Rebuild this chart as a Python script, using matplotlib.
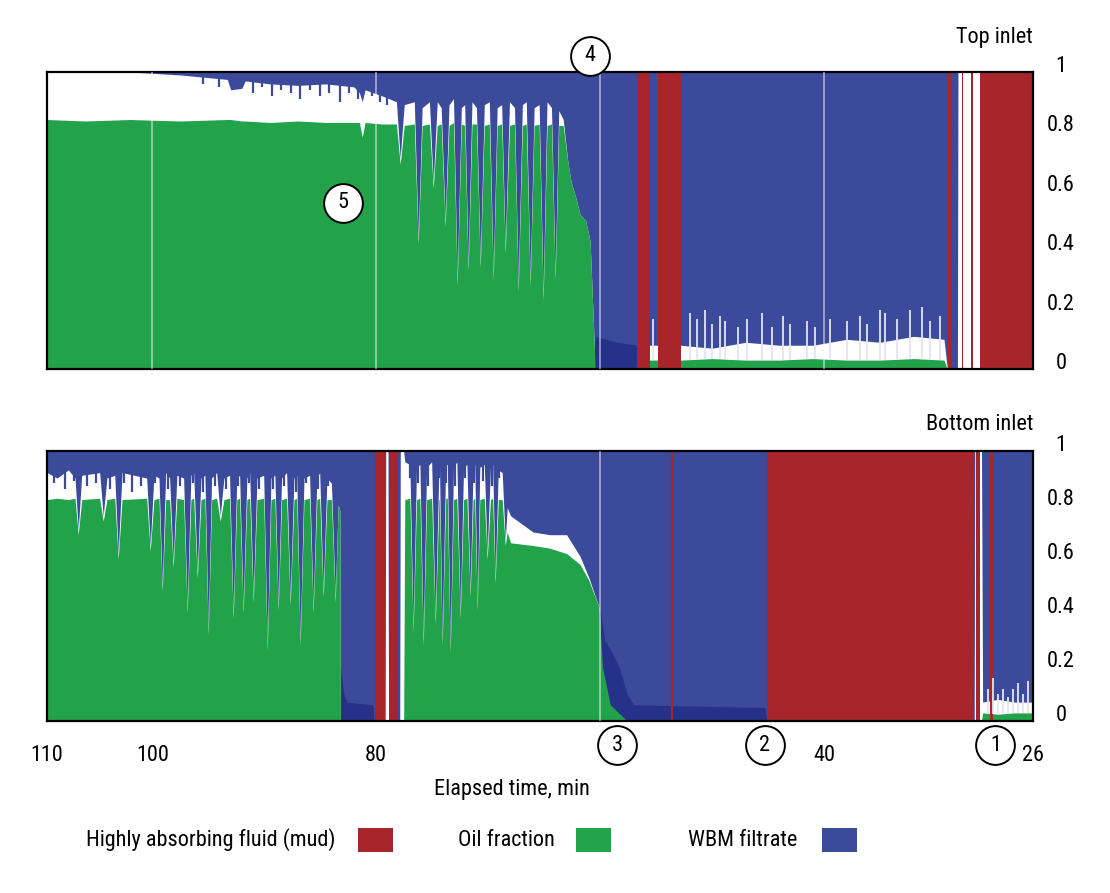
import numpy as np
import matplotlib.pyplot as plt
from matplotlib.patches import Rectangle

plt.rcParams['font.family'] = ['Roboto Condensed', 'Liberation Sans Narrow', 'Liberation Sans']

# colours
BLUE = '#3c4a9c'
DARK = '#26318a'
GREEN = '#22a24a'
RED = '#a8262b'
PALE = '#e4e4f4'

# ---------------- top inlet ----------------
# time (min), top of oil fraction, lower edge of WBM filtrate band (band runs up to 1)
t_top = [109.4, 106.0, 102.0, 97.5, 93.3, 93.0, 92.0, 91.7, 89.5, 87.0, 84.5, 82.0, 81.5, 81.25, 81.0, 79.5,
         78.2, 77.86, 77.5,
         76.6, 76.25, 75.9,
         75.25, 74.91, 74.55,
         74.2, 73.84, 73.5,
         73.1, 72.77, 72.4,
         72.1, 71.79, 71.45,
         71.05, 70.71, 70.35,
         69.9, 69.55, 69.2,
         68.8, 68.48, 68.1,
         67.65, 67.32, 66.95,
         66.6, 66.25, 65.9,
         65.45, 65.09, 64.75,
         64.35, 64.02, 63.7,
         63.3, 62.9, 62.6, 62.2, 61.8, 61.3, 60.9, 60.6, 60.45,
         56.8, 56.7,
         52.8, 50.0, 47.0, 44.0, 41.0, 38.0, 35.0, 32.0, 29.3,
         29.0, 28.1, 28.05, 21.35]
oil_top = [0.84, 0.835, 0.84, 0.835, 0.84, 0.84, 0.835, 0.835, 0.83, 0.835, 0.83, 0.83, 0.83, 0.78, 0.83, 0.825,
           0.825, 0.69, 0.82,
           0.825, 0.42, 0.82,
           0.825, 0.61, 0.82,
           0.825, 0.48, 0.82,
           0.83, 0.28, 0.825,
           0.82, 0.33, 0.825,
           0.825, 0.34, 0.82,
           0.825, 0.30, 0.82,
           0.825, 0.39, 0.82,
           0.825, 0.26, 0.82,
           0.825, 0.28, 0.82,
           0.825, 0.23, 0.82,
           0.825, 0.30, 0.82,
           0.82, 0.70, 0.63, 0.58, 0.52, 0.50, 0.43, 0.15, 0.0,
           0.0, 0.03,
           0.03, 0.035, 0.03, 0.03, 0.035, 0.03, 0.03, 0.035, 0.03,
           0.0, 0.0, 0.0, 0.0]
wbm_top = [1.0, 1.0, 1.0, 0.99, 0.975, 0.94, 0.945, 0.97, 0.96, 0.955, 0.96, 0.95, 0.93, 0.90, 0.94, 0.92,
           0.90, 0.71, 0.89,
           0.90, 0.44, 0.88,
           0.90, 0.63, 0.90,
           0.88, 0.50, 0.89,
           0.91, 0.30, 0.88,
           0.89, 0.35, 0.90,
           0.88, 0.36, 0.89,
           0.90, 0.32, 0.88,
           0.89, 0.41, 0.90,
           0.88, 0.28, 0.89,
           0.90, 0.30, 0.88,
           0.89, 0.25, 0.90,
           0.88, 0.32, 0.87,
           0.84, 0.70, 0.63, 0.58, 0.52, 0.50, 0.43, 0.15, 0.0,
           0.0, 0.08,
           0.08, 0.07, 0.09, 0.08, 0.08, 0.10, 0.09, 0.11, 0.10,
           0.0, 0.0, 1.0, 1.0]
t_dark_top = [60.6, 60.45, 58.5, 56.7]
dark_top = [0.0, 0.11, 0.09, 0.08]
mud_start_top = [56.7, 54.82, 28.93, 27.68, 26.88, 26.07]
mud_end_top = [55.54, 52.77, 28.6, 27.59, 26.70, 21.35]
spike_t_top = [55.27, 51.96, 51.34, 50.63, 50.0, 49.29, 48.84, 47.68, 46.88, 45.54, 44.64, 43.66, 43.04,
               41.52, 40.80, 39.46, 37.95, 36.79, 36.16, 35.0, 34.55, 33.48, 32.32, 31.25, 30.54, 29.64]
spike_h_top = [0.17, 0.19, 0.17, 0.20, 0.15, 0.18, 0.16, 0.14, 0.17, 0.19, 0.14, 0.18, 0.15,
               0.16, 0.14, 0.17, 0.16, 0.18, 0.15, 0.20, 0.19, 0.17, 0.20, 0.21, 0.16, 0.18]
fringe_t_top = [95.5, 94.0, 91.0, 90.2, 89.3, 88.5, 87.6, 86.8, 85.9, 85.0, 84.2, 83.2, 82.4, 81.6, 80.4, 79.7, 79.0]
fringe_h_top = [0.96, 0.95, 0.93, 0.95, 0.92, 0.94, 0.93, 0.91, 0.94, 0.92, 0.93, 0.90, 0.93, 0.91, 0.92, 0.90, 0.89]

# ---------------- bottom inlet ----------------
t_bot = [109.4, 108.5, 107.5,
         106.9, 106.61, 106.3,
         104.7, 104.38, 104.05,
         103.35, 103.04, 102.7,
         100.5, 100.18, 99.85,
         99.4, 99.11, 98.8,
         98.45, 98.13, 97.8,
         97.2, 96.88, 96.55,
         96.3, 95.98, 95.65,
         95.3, 95.0, 94.7,
         94.25, 93.93, 93.6,
         93.1, 92.77, 92.45,
         92.2, 91.88, 91.55,
         91.3, 90.98, 90.65,
         90.05, 89.73, 89.4,
         89.05, 88.75, 88.45,
         88.0, 87.68, 87.35,
         87.1, 86.79, 86.45,
         85.95, 85.63, 85.3,
         85.05, 84.73, 84.4,
         84.0, 83.66, 83.4,
         83.25, 83.2,
         79.2, 79.15, 78.95, 78.9,
         77.9, 77.85, 77.55, 77.45,
         77.0, 76.7, 76.4,
         76.1, 75.8, 75.5,
         75.05, 74.73, 74.4,
         74.35, 74.11, 73.8,
         73.65, 73.39, 73.1,
         72.8, 72.5, 72.2,
         71.9, 71.61, 71.35,
         71.2, 70.98, 70.75,
         70.35, 70.09, 69.8,
         69.6, 69.38, 69.1,
         68.75, 68.48, 68.3,
         68.0, 66.0, 64.5, 63.0, 61.8, 61.0, 60.1, 59.8, 59.1, 57.6,
         26.6, 26.55, 25.95, 25.85, 24.5, 23.0, 21.35]
oil_bot = [0.82, 0.825, 0.82,
           0.825, 0.69, 0.82,
           0.825, 0.74, 0.82,
           0.825, 0.60, 0.82,
           0.825, 0.63, 0.82,
           0.825, 0.48, 0.82,
           0.82, 0.57, 0.825,
           0.82, 0.40, 0.82,
           0.825, 0.53, 0.82,
           0.825, 0.32, 0.82,
           0.825, 0.74, 0.82,
           0.825, 0.38, 0.82,
           0.825, 0.40, 0.82,
           0.825, 0.44, 0.82,
           0.825, 0.26, 0.82,
           0.825, 0.41, 0.82,
           0.825, 0.43, 0.82,
           0.825, 0.28, 0.82,
           0.825, 0.40, 0.82,
           0.825, 0.46, 0.82,
           0.82, 0.44, 0.80,
           0.78, 0.0,
           0.0, 0.0, 0.0, 0.0,
           0.0, 0.0, 0.0, 0.82,
           0.825, 0.33, 0.82,
           0.825, 0.28, 0.82,
           0.825, 0.36, 0.82,
           0.82, 0.28, 0.825,
           0.825, 0.25, 0.82,
           0.825, 0.38, 0.82,
           0.825, 0.46, 0.82,
           0.825, 0.41, 0.82,
           0.825, 0.60, 0.82,
           0.825, 0.51, 0.82,
           0.82, 0.65, 0.70,
           0.66, 0.65, 0.64, 0.62, 0.58, 0.52, 0.42, 0.20, 0.06, 0.0,
           0.0, 0.0, 0.0, 0.03, 0.025, 0.03, 0.03]
wbm_bot = [0.92, 0.90, 0.93,
           0.90, 0.71, 0.91,
           0.92, 0.76, 0.90,
           0.91, 0.62, 0.92,
           0.90, 0.65, 0.91,
           0.90, 0.50, 0.92,
           0.90, 0.59, 0.91,
           0.90, 0.42, 0.91,
           0.92, 0.55, 0.90,
           0.91, 0.34, 0.90,
           0.92, 0.76, 0.90,
           0.91, 0.40, 0.90,
           0.91, 0.42, 0.90,
           0.92, 0.46, 0.90,
           0.91, 0.28, 0.90,
           0.91, 0.43, 0.90,
           0.92, 0.45, 0.90,
           0.91, 0.30, 0.90,
           0.91, 0.42, 0.90,
           0.92, 0.48, 0.90,
           0.88, 0.46, 0.80,
           0.78, 0.0,
           0.0, 1.0, 1.0, 0.0,
           0.0, 1.0, 1.0, 0.96,
           0.95, 0.35, 0.94,
           0.95, 0.30, 0.94,
           0.96, 0.38, 0.94,
           0.94, 0.30, 0.95,
           0.95, 0.27, 0.94,
           0.96, 0.40, 0.94,
           0.95, 0.48, 0.94,
           0.95, 0.43, 0.94,
           0.95, 0.62, 0.94,
           0.95, 0.53, 0.93,
           0.92, 0.67, 0.79,
           0.76, 0.70, 0.69, 0.69, 0.61, 0.53, 0.42, 0.20, 0.06, 0.0,
           0.0, 1.0, 1.0, 0.07, 0.08, 0.07, 0.07]
t_dark_bot = [83.2, 82.9, 82.6, 80.3, 80.2, 60.1, 60.0, 59.6, 58.9, 58.3, 57.6, 57.0, 45.3, 45.1]
dark_bot = [0.20, 0.10, 0.07, 0.06, 0.0, 0.0, 0.41, 0.30, 0.25, 0.20, 0.10, 0.06, 0.05, 0.0]
mud_start_bot = [80.1, 78.9, 53.65, 45.1, 26.4, 25.2]
mud_end_bot = [79.2, 78.1, 53.5, 26.6, 26.1, 24.95]
spike_t_bot = [25.36, 24.9, 24.46, 24.0, 23.57, 23.1, 22.68, 22.2, 21.8]
spike_h_bot = [0.12, 0.16, 0.10, 0.12, 0.09, 0.12, 0.14, 0.10, 0.15]
fringe_t_bot = [108.8, 107.8, 107.0, 105.8, 105.0, 103.8, 102.5, 101.8, 101.0, 99.8,
                98.6, 97.5, 96.4, 95.5, 94.4, 93.4, 92.3, 91.4, 90.5, 89.2,
                88.2, 87.2, 86.3, 85.2, 84.3,
                77.0, 76.3, 75.4, 74.4, 73.8, 73.0, 72.1, 71.3, 70.5, 69.7, 69.0]
fringe_h_bot = [0.88, 0.86, 0.89, 0.87, 0.88, 0.86, 0.88, 0.85, 0.87, 0.88,
                0.86, 0.87, 0.88, 0.85, 0.87, 0.86, 0.87, 0.88, 0.86, 0.86,
                0.87, 0.85, 0.88, 0.86, 0.87,
                0.90, 0.88, 0.87, 0.90, 0.88, 0.87, 0.90, 0.88, 0.89, 0.87, 0.90]

# axis labels / annotations
x_edges = [109.4, 21.35]
x_tick_pos = [109.4, 100, 80, 40, 21.35]
x_tick_lab = ['110', '100', '80', '40', '26']
x_grid = [100, 80, 60, 40]
y_ticks = [0, 0.2, 0.4, 0.6, 0.8, 1]
y_tick_lab = ['0', '0.2', '0.4', '0.6', '0.8', '1']
legend_labels = ['Highly absorbing fluid (mud)', 'Oil fraction', 'WBM filtrate']
legend_colors = [RED, GREEN, BLUE]

FS = 16
W, H = 1110, 893
fig = plt.figure(figsize=(W / 100, H / 100), dpi=100)
ax1 = fig.add_axes([47 / W, 1 - 369 / H, 986 / W, 297 / H])
ax2 = fig.add_axes([47 / W, 1 - 721 / H, 986 / W, 270 / H])


def draw_panel(ax, t, oil, wbm, td, dk, ms, me, st, sh, ft, fh):
    t = np.array(t)
    oil = np.array(oil)
    ax.fill_between(t, wbm, 1, color=BLUE, lw=0)
    ax.fill_between(td, 0, dk, color=DARK, lw=0)
    ax.fill_between(t, 0, oil, color=GREEN, lw=0)
    base = np.interp(st, t[::-1], oil[::-1])
    ax.vlines(st, base, sh, color=PALE, lw=1.3)
    ax.vlines(ft, fh, 1, color=BLUE, lw=1.6)
    for s, e in zip(ms, me):
        ax.axvspan(e, s, color=RED, lw=0)

    ax.set_xlim(x_edges)
    ax.set_ylim(0, 1)
    ax.set_axisbelow(False)
    ax.set_xticks(x_grid, minor=True)
    ax.set_yticks([0.2, 0.4, 0.6, 0.8], minor=True)
    ax.grid(which='minor', color='white', alpha=0.55, lw=1.2)
    ax.grid(which='major', visible=False)
    ax.yaxis.tick_right()
    ax.set_yticks(y_ticks)
    ax.set_yticklabels(y_tick_lab)
    ax.tick_params(which='both', length=0)
    ax.tick_params(axis='y', pad=20, labelsize=FS)
    for lbl in ax.get_yticklabels():
        lbl.set_horizontalalignment('center')
        lbl.set_verticalalignment('baseline')
    for sp in ax.spines.values():
        sp.set_linewidth(1.6)
        sp.set_color('black')


draw_panel(ax1, t_top, oil_top, wbm_top, t_dark_top, dark_top, mud_start_top, mud_end_top,
           spike_t_top, spike_h_top, fringe_t_top, fringe_h_top)
draw_panel(ax2, t_bot, oil_bot, wbm_bot, t_dark_bot, dark_bot, mud_start_bot, mud_end_bot,
           spike_t_bot, spike_h_bot, fringe_t_bot, fringe_h_bot)

ax1.set_xticks([])
ax2.set_xticks(x_tick_pos)
ax2.set_xticklabels(x_tick_lab)
ax2.tick_params(axis='x', pad=17, labelsize=FS)


def marker(ax, x, y, label, trans):
    ax.scatter([x], [y], s=780, facecolor='white', edgecolor='black', lw=1.4,
               transform=trans, clip_on=False, zorder=6)
    ax.text(x, y, label, transform=trans, ha='center', va='center', fontsize=FS, zorder=7)


marker(ax1, 60.9, 1.054, '4', ax1.get_xaxis_transform())
marker(ax1, 83.0, 0.559, '5', ax1.transData)
marker(ax2, 58.5, -0.089, '3', ax2.get_xaxis_transform())
marker(ax2, 45.3, -0.089, '2', ax2.get_xaxis_transform())
marker(ax2, 24.7, -0.089, '1', ax2.get_xaxis_transform())

fig.text(1033 / W, 1 - 38 / H, 'Top inlet', ha='right', va='center', fontsize=FS)
fig.text(1033 / W, 1 - 424 / H, 'Bottom inlet', ha='right', va='center', fontsize=FS)
fig.text(512 / W, 1 - 790 / H, 'Elapsed time, min', ha='center', va='center', fontsize=FS)

# legend: label on the left of each swatch
sw_x = [358, 576, 822]
lab_x = [335, 555, 797]
for sx, lx, lab, col in zip(sw_x, lab_x, legend_labels, legend_colors):
    fig.add_artist(Rectangle((sx / W, 1 - 852 / H), 35 / W, 24 / H, transform=fig.transFigure,
                             facecolor=col, edgecolor='none'))
    fig.text(lx / W, 1 - 840 / H, lab, ha='right', va='center', fontsize=FS)

fig.savefig('out.png', dpi=100)
